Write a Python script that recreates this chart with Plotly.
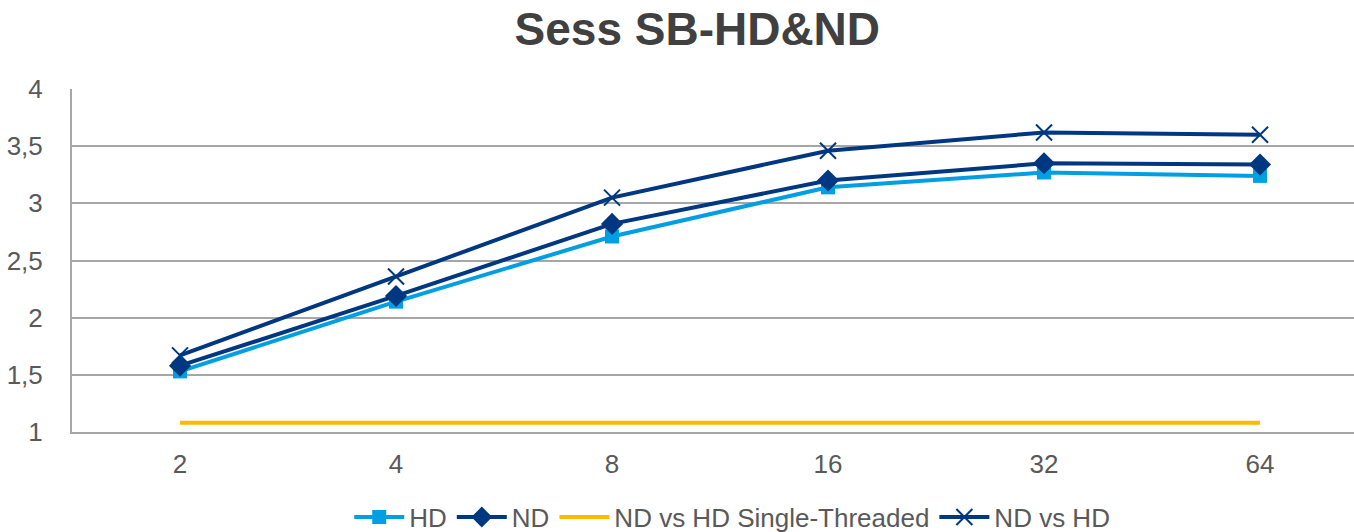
import plotly.graph_objects as go

categories = ["2", "4", "8", "16", "32", "64"]
hd = [1.53, 2.14, 2.71, 3.14, 3.27, 3.24]
nd = [1.58, 2.19, 2.82, 3.20, 3.35, 3.34]
single = [1.08, 1.08, 1.08, 1.08, 1.08, 1.08]
nd_vs_hd = [1.67, 2.36, 3.05, 3.46, 3.62, 3.60]
y_ticks = [1, 1.5, 2, 2.5, 3, 3.5, 4]
y_tick_text = ["1", "1,5", "2", "2,5", "3", "3,5", "4"]

LIGHT = "#009FE3"
NAVY = "#003781"
YELLOW = "#FFB900"
TXT = "#595959"

x = list(range(len(categories)))

fig = go.Figure()
fig.add_trace(go.Scatter(x=x, y=hd, name="HD", mode="lines+markers",
                         line=dict(color=LIGHT, width=4),
                         marker=dict(symbol="square", size=14, color=LIGHT)))
fig.add_trace(go.Scatter(x=x, y=nd, name="ND", mode="lines+markers",
                         line=dict(color=NAVY, width=4),
                         marker=dict(symbol="diamond", size=17, color=NAVY)))
fig.add_trace(go.Scatter(x=x, y=single, name="ND vs HD Single-Threaded", mode="lines",
                         line=dict(color=YELLOW, width=4)))
fig.add_trace(go.Scatter(x=x, y=nd_vs_hd, name="ND vs HD", mode="lines+markers",
                         line=dict(color=NAVY, width=4),
                         marker=dict(symbol="x-thin", size=16, color=NAVY,
                                     line=dict(color=NAVY, width=2))))

fig.update_layout(
    width=1354, height=532,
    margin=dict(l=72, r=0, t=89, b=100, autoexpand=False),
    paper_bgcolor="white", plot_bgcolor="white",
    font=dict(family="Liberation Sans, Arial, sans-serif", size=26, color=TXT),
    title=dict(text="<b>Sess SB-HD&ND</b>", x=0.515, xanchor="center",
               y=0.945, yanchor="middle", font=dict(size=46, color="#404040")),
    showlegend=True,
    legend=dict(orientation="h", x=0.515, xanchor="center", xref="paper",
                y=0.028, yanchor="middle", yref="container",
                font=dict(size=26, color=TXT), itemwidth=50, traceorder="normal"),
    xaxis=dict(range=[-0.5, 5.435], tickmode="array", tickvals=x, ticktext=categories,
               showgrid=False, showline=True, linecolor="#A6A6A6", linewidth=2,
               ticks="outside", ticklen=8, tickcolor="rgba(0,0,0,0)", zeroline=False,
               automargin=False, fixedrange=True),
    yaxis=dict(range=[1, 4], tickmode="array", tickvals=y_ticks, ticktext=y_tick_text,
               showgrid=True, gridcolor="#A6A6A6", gridwidth=2,
               showline=True, linecolor="#A6A6A6", linewidth=2, automargin=False,
               ticks="outside", ticklen=22, tickcolor="rgba(0,0,0,0)", zeroline=False),
)

fig.write_html("out.html")
